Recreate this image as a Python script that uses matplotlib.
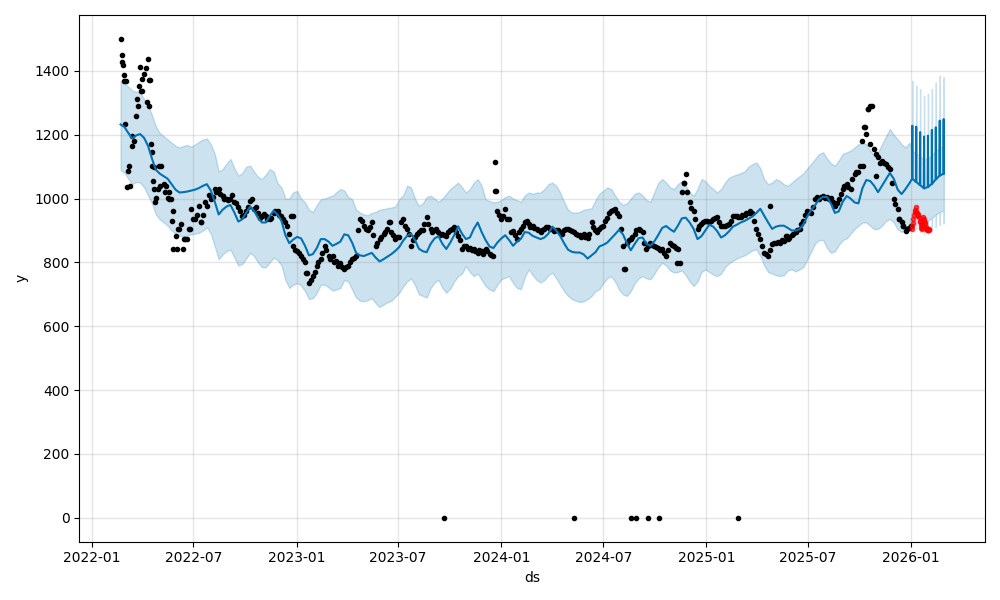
import numpy as np
import pandas as pd
import matplotlib
matplotlib.use("Agg")
import matplotlib.pyplot as plt
import matplotlib.dates as mdates
from datetime import timedelta

# ---------------- data ----------------
hist_start = "2022-02-21"  # weekly samples of the fitted history
mid_start = "2022-02-24"   # mid-week observation samples

obs_values = [
    1500, 1387, 1086, 1165, 1259, 1412, 1390, 1437, 1145, 1003,
    1040, 1045, 1003, 930, 883, 904, 841, 873, 967, 936,
    977, 950, 977, 1000, 1030, 1030, 1009, 1000, 998, 990,
    972, 946, 960, 993, 967, 955, 945, 946, 936, 955,
    961, 946, 925, 888, 852, 836, 820, 800, 737, 757,
    789, 810, 852, 820, 820, 805, 799, 778, 790, 810,
    820, 936, 915, 900, 925, 852, 873, 890, 905, 894,
    873, 880, 936, 904, 852, 880, 895, 900, 941, 904,
    900, 894, 890, 883, 900, 910, 883, 841, 852, 845,
    841, 831, 835, 841, 825, 820, 961, 936, 967, 936,
    899, 873, 904, 925, 920, 915, 905, 894, 905, 910,
    904, 900, 895, 900, 904, 899, 890, 885, 888, 878,
    925, 900, 905, 915, 940, 960, 967, 946, 852, 860,
    873, 890, 904, 894, 841, 860, 852, 845, 841, 820,
    862, 850, 841, 1019, 1077, 988, 961, 904, 920, 930,
    925, 935, 941, 915, 915, 920, 946, 945, 941, 950,
    956, 956, 904, 873, 831, 820, 857, 860, 862, 867,
    873, 885, 894, 904, 930, 961, 956, 998, 1000, 1009,
    1005, 1003, 977, 998, 1030, 1045, 1030, 1077, 1082, 1181,
    1202, 1171, 1155, 1129, 1119, 1108, 1092, 998, 967, 925,
    899, 909,
]

obs_mid_values = [
    1450, 1368, 1040, 1180, 1290, 1338, 1410, 1370, 1100, 1030,
    1103, 1020, 998, 960, 843, 920, 873, 904, 936, 950,
    925, 990, 1010, 1005, 1020, 1015, 1000, 995, 1010, 985,
    960, 950, 975, 1000, 975, 940, 952, 935, 940, 962,
    950, 935, 915, 946, 840, 830, 810, 768, 745, 770,
    800, 830, 840, 812, 800, 790, 785, 785, 800, 815,
    900, 930, 905, 910, 885, 860, 880, 895, 925, 885,
    880, 925, 915, 890, 870, 890, 900, 920, 920, 895,
    905, 885, 885, 895, 905, 895, 870, 850, 842, 838,
    835, 840, 825, 835, 822, 1024, 950, 945, 935, 894,
    885, 895, 915, 930, 910, 908, 900, 900, 912, 905,
    898, 902, 890, 905, 900, 895, 885, 880, 880, 890,
    910, 895, 912, 930, 955, 965, 955, 905, 778, 870,
    880, 900, 900, 860, 850, 855, 848, 838, 830, 840,
    855, 845, 799, 1050, 1020, 970, 936, 915, 925, 930,
    930, 940, 925, 915, 918, 930, 945, 942, 948, 955,
    960, 930, 890, 850, 825, 840, 860, 865, 870, 883,
    878, 890, 900, 920, 950, 958, 975, 1005, 1005, 1003,
    1000, 990, 985, 1015, 1040, 1035, 1060, 1082, 1103, 1223,
    1281, 1291, 1140, 1110, 1112, 1100, 1050, 982, 936, 915,
    905, 915,
]

extra_dates = [
    "2022-02-23", "2022-02-26", "2022-02-28", "2022-03-01",
    "2022-03-05", "2022-03-08", "2022-03-13", "2022-03-23", "2022-03-26",
    "2022-03-29", "2022-04-01", "2022-04-10", "2022-04-12", "2022-04-13",
    "2022-04-16", "2022-04-18", "2022-04-19", "2022-04-22", "2022-04-24",
    "2022-05-01", "2022-05-13", "2022-05-19", "2022-05-22", "2022-05-25",
    "2022-06-03", "2022-06-15", "2022-06-24", "2022-07-15", "2022-08-22",
    "2022-12-25", "2023-01-18", "2023-06-16", "2023-12-21", "2023-12-22",
    "2024-08-06", "2024-11-10", "2024-11-21", "2025-04-25", "2025-05-25",
    "2025-10-07", "2025-10-10", "2025-10-16", "2025-10-19", "2025-10-31",
    "2025-12-11", "2025-12-17",
    "2023-09-21", "2024-05-10", "2024-08-19", "2024-08-28", "2024-09-19",
    "2024-10-09", "2025-02-26",
]
extra_values = [
    1429, 1419, 1368, 1233,
    1035, 1103, 1197, 1312, 1354,
    1338, 1375, 1302, 1370, 1290,
    1171, 1103, 1056, 1030, 988,
    1103, 1040, 1020, 998, 843,
    904, 873, 904, 925, 1009,
    946, 768, 925, 1115, 1024,
    778, 799, 1050, 977, 883,
    1103, 1223, 1281, 1291, 1071,
    936, 915,
    0, 0, 0, 0, 0,
    0, 0,
]

yhat = [
    1232, 1224, 1205, 1188, 1198, 1202, 1190, 1165, 1125, 1090,
    1078, 1070, 1062, 1045, 1028, 1019, 1020, 1022, 1025, 1028,
    1033, 1040, 1045, 1025, 990, 950, 965, 975, 980, 956,
    928, 935, 955, 975, 962, 940, 925, 925, 945, 962,
    950, 930, 885, 860, 872, 880, 875, 852, 822, 826,
    845, 873, 873, 865, 852, 858, 865, 888, 885, 862,
    830, 822, 820, 825, 830, 815, 803, 810, 818, 826,
    836, 848, 868, 883, 890, 870, 843, 835, 832, 858,
    875, 882, 858, 842, 862, 885, 913, 890, 873, 878,
    905, 925, 895, 870, 850, 845, 862, 875, 885, 870,
    852, 865, 874, 895, 893, 883, 878, 873, 878, 890,
    912, 900, 883, 860, 840, 833, 831, 831, 825, 812,
    822, 832, 850, 855, 862, 875, 888, 902, 888, 860,
    838, 858, 876, 878, 858, 852, 866, 886, 908, 914,
    904, 896, 915, 938, 940, 925, 905, 873, 882, 900,
    918, 912, 898, 878, 885, 897, 912, 918, 925, 930,
    937, 944, 955, 968, 946, 925, 905, 912, 915, 915,
    908, 900, 900, 904, 920, 945, 965, 980, 998, 1005,
    1005, 984, 955, 960, 990, 1008, 1000, 988, 985, 1032,
    1058, 1055, 1040, 1020, 1040, 1060, 1080, 1062, 1028, 1014,
    1030, 1048,
]

yhat_upper = [
    1368, 1360, 1350, 1338, 1335, 1330, 1312, 1292, 1262, 1225,
    1205, 1195, 1185, 1175, 1165, 1160, 1165, 1168, 1162, 1170,
    1178, 1185, 1188, 1170, 1140, 1085, 1092, 1110, 1124, 1095,
    1072, 1080, 1100, 1103, 1085, 1068, 1061, 1075, 1092, 1085,
    1048, 1035, 1000, 1000, 1020, 1024, 1000, 988, 965, 958,
    980, 998, 1000, 1005, 1009, 1020, 1030, 1025, 1005, 998,
    965, 956, 950, 948, 955, 958, 965, 967, 970, 972,
    975, 998, 1010, 1040, 1035, 1000, 977, 985, 1005, 1009,
    1000, 990, 1000, 1015, 1030, 1040, 1050, 1035, 1019, 1030,
    1050, 1061, 1040, 998, 992, 988, 990, 995, 1005, 1009,
    1000, 995, 990, 1010, 1019, 1015, 1019, 1019, 1030, 1045,
    1050, 1040, 1019, 990, 965, 956, 956, 958, 965, 967,
    970, 995, 1015, 1025, 1035, 1030, 1010, 990, 980, 985,
    1000, 1015, 1019, 1010, 995, 990, 1020, 1050, 1061, 1050,
    1035, 1030, 1045, 1055, 1040, 1020, 1009, 1030, 1061, 1055,
    1040, 1030, 1019, 1030, 1050, 1065, 1071, 1075, 1080, 1085,
    1100, 1108, 1113, 1095, 1060, 1045, 1050, 1061, 1055, 1045,
    1040, 1050, 1061, 1070, 1080, 1095, 1110, 1125, 1140, 1145,
    1125, 1110, 1103, 1120, 1140, 1145, 1150, 1160, 1170, 1176,
    1170, 1150, 1134, 1145, 1170, 1195, 1218, 1200, 1186, 1170,
    1160, 1175,
]

yhat_lower = [
    1090, 1080, 1062, 1045, 1052, 1050, 1035, 1010, 985, 950,
    935, 925, 915, 900, 890, 885, 880, 885, 888, 890,
    893, 900, 910, 890, 850, 810, 825, 835, 840, 815,
    790, 795, 812, 830, 820, 800, 785, 785, 800, 815,
    808, 790, 745, 720, 730, 735, 728, 710, 685, 688,
    705, 730, 730, 722, 712, 715, 720, 745, 740, 715,
    690, 680, 678, 682, 688, 672, 660, 668, 675, 680,
    692, 705, 725, 740, 750, 730, 700, 695, 690, 720,
    737, 745, 720, 705, 718, 740, 757, 765, 789, 770,
    757, 765, 745, 726, 715, 710, 730, 747, 752, 757,
    735, 720, 716, 755, 778, 760, 745, 737, 745, 760,
    768, 750, 730, 710, 695, 685, 680, 676, 678, 685,
    695, 710, 716, 735, 750, 757, 740, 715, 700, 695,
    710, 735, 750, 757, 750, 747, 765, 785, 799, 790,
    775, 768, 770, 775, 760, 740, 726, 740, 770, 778,
    770, 762, 757, 765, 785, 797, 805, 812, 818, 822,
    830, 838, 841, 820, 790, 770, 765, 760, 757, 760,
    775, 778, 772, 778, 786, 810, 835, 860, 870, 870,
    845, 830, 835, 855, 870, 875, 890, 905, 915, 925,
    925, 915, 904, 905, 915, 930, 936, 925, 904, 895,
    905, 920,
]

# future (forecast) part: one burst of sub-daily points per week
fc_start = "2026-01-03"
fc_base = [1062, 1052, 1042, 1032, 1036, 1046, 1060, 1072, 1078]
fc_peak = [1228, 1225, 1208, 1194, 1197, 1215, 1223, 1244, 1249]
fc_upper_base = [1150, 1142, 1132, 1122, 1126, 1136, 1150, 1160, 1165]
fc_upper_peak = [1369, 1354, 1343, 1322, 1328, 1343, 1364, 1385, 1380]
fc_lower_base = [955, 945, 935, 928, 930, 940, 950, 958, 962]
fc_lower_dip = [915, 905, 895, 888, 890, 900, 910, 918, 922]

# held-out actuals (red)
test_start = "2026-01-02"
test_values = [
    905, 915, 922, 935, 948, 958, 965, 972, 962, 955,
    950, 946, 951, 941, 930, 925, 918, 909, 904, 915,
    930, 941, 935, 925, 920, 912, 906, 903, 904, 902,
    905, 903,
]

# ---------------- build series ----------------
hist_dates = pd.date_range(hist_start, periods=len(yhat), freq="7D")
mid_dates = pd.date_range(mid_start, periods=len(obs_mid_values), freq="7D")
fc_dates = pd.date_range(fc_start, periods=len(fc_base), freq="7D")
test_dates = pd.date_range(test_start, periods=len(test_values), freq="D")

offsets = [-0.3, 0.0, 0.3]
f_t, f_y, f_u, f_l = [], [], [], []
for i, d in enumerate(fc_dates):
    for j, o in enumerate(offsets):
        f_t.append(d + timedelta(days=o))
        if j % 2 == 0:
            f_y.append(fc_base[i]); f_u.append(fc_upper_base[i]); f_l.append(fc_lower_base[i])
        else:
            f_y.append(fc_peak[i]); f_u.append(fc_upper_peak[i]); f_l.append(fc_lower_dip[i])

all_t = list(hist_dates.to_pydatetime()) + [pd.Timestamp(t).to_pydatetime() for t in f_t]
all_y = list(yhat) + f_y
all_u = list(yhat_upper) + f_u
all_l = list(yhat_lower) + f_l

obs_t = (list(hist_dates.to_pydatetime()) + list(mid_dates.to_pydatetime())
         + [pd.Timestamp(d).to_pydatetime() for d in extra_dates])
obs_y = list(obs_values) + list(obs_mid_values) + list(extra_values)

# ---------------- plot ----------------
fig = plt.figure(facecolor="w", figsize=(10, 6), dpi=100)
ax = fig.add_subplot(111)
ax.plot(obs_t, obs_y, "k.", label="Observed data points")
ax.plot(all_t, all_y, ls="-", c="#0072B2", label="Forecast")
ax.fill_between(all_t, all_l, all_u, color="#0072B2", alpha=0.2, label="Uncertainty interval")
ax.plot(test_dates.to_pydatetime(), test_values, ".", color="red", alpha=0.7)

ax.xaxis.set_major_locator(mdates.MonthLocator(bymonth=[1, 7]))
ax.xaxis.set_major_formatter(mdates.DateFormatter("%Y-%m"))
ax.grid(True, which="major", c="gray", ls="-", lw=1, alpha=0.2)
ax.set_xlabel("ds")
ax.set_ylabel("y")
fig.tight_layout()
fig.savefig("out.png", dpi=100)
